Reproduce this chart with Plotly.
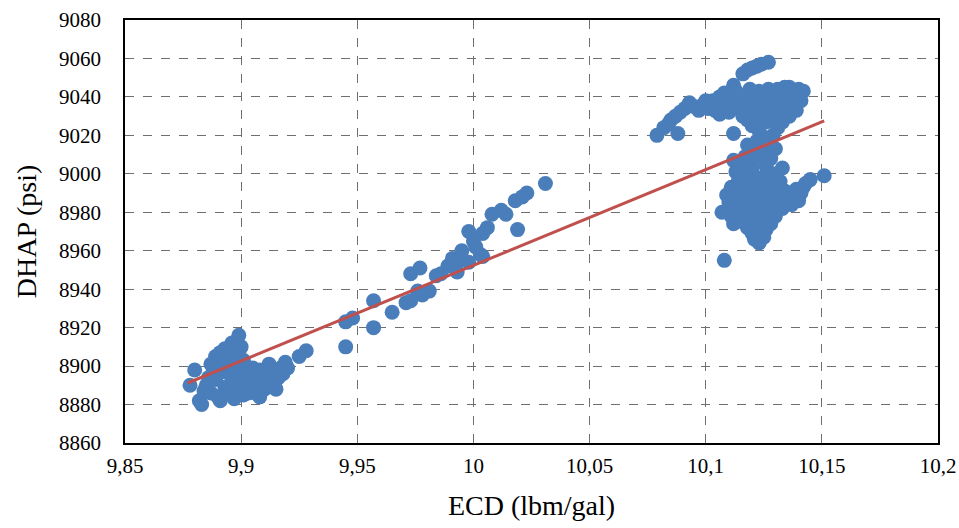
import plotly.graph_objects as go

# Measured ECD (lbm/gal) and downhole annular pressure (psi), by operating interval
ecd_low = [9.899, 9.896, 9.893, 9.891, 9.889, 9.887, 9.880, 9.878, 9.882, 9.883, 9.915, 9.919,
           9.925, 9.928, 9.912, 9.913, 9.885, 9.887, 9.889, 9.890, 9.892, 9.893, 9.895, 9.896,
           9.897, 9.898, 9.899, 9.900, 9.901, 9.902, 9.903, 9.904, 9.905, 9.906, 9.907, 9.908,
           9.909, 9.910, 9.911, 9.913, 9.914, 9.916, 9.918, 9.920, 9.895, 9.898, 9.901, 9.894,
           9.888, 9.886, 9.884, 9.891, 9.897, 9.903, 9.908, 9.900, 9.897, 9.905, 9.910, 9.915,
           9.917, 9.906, 9.892, 9.899]
dhap_low = [8916, 8912, 8909, 8907, 8905, 8901, 8898, 8890, 8882, 8880, 8888, 8902,
            8905, 8908, 8901, 8896, 8890, 8886, 8893, 8884, 8897, 8889, 8886, 8894,
            8900, 8891, 8887, 8896, 8885, 8892, 8899, 8889, 8895, 8886, 8891, 8898,
            8893, 8888, 8895, 8891, 8898, 8894, 8896, 8899, 8903, 8906, 8903, 8898,
            8897, 8894, 8887, 8882, 8883, 8886, 8884, 8910, 8909, 8899, 8897, 8893,
            8899, 8888, 8901, 8904]

ecd_mid = [9.945, 9.945, 9.948, 9.957, 9.957, 9.965, 9.971, 9.973, 9.973, 9.977, 9.976, 9.978,
           9.981, 9.984, 9.989, 9.991, 9.993, 9.995, 9.998, 9.998, 10.000, 10.003, 10.004,
           10.004, 10.006, 10.008, 10.012, 10.014, 10.018, 10.019, 10.021, 10.023, 10.031,
           9.986, 9.994, 10.001]
dhap_mid = [8910, 8923, 8925, 8920, 8934, 8928, 8933, 8934, 8948, 8951, 8939, 8937,
            8939, 8947, 8952, 8956, 8949, 8960, 8970, 8954, 8965, 8958, 8957,
            8969, 8972, 8979, 8981, 8979, 8986, 8971, 8988, 8990, 8995,
            8948, 8955, 8962]

ecd_high = [10.079, 10.082, 10.084, 10.085, 10.087, 10.089, 10.091, 10.093, 10.095, 10.088,
            10.097, 10.099, 10.101, 10.103, 10.105, 10.107, 10.109, 10.111, 10.112, 10.113,
            10.110, 10.106, 10.104, 10.112,
            10.116, 10.118, 10.120, 10.122, 10.124, 10.127,
            10.115, 10.117, 10.118, 10.119, 10.120, 10.121, 10.122, 10.123, 10.124, 10.125,
            10.126, 10.127, 10.128, 10.129, 10.130, 10.131, 10.132, 10.133, 10.134, 10.135,
            10.136, 10.137, 10.138, 10.139, 10.140, 10.141, 10.142, 10.139, 10.136, 10.133,
            10.116, 10.114, 10.119, 10.123, 10.127, 10.131,
            10.120, 10.123, 10.125, 10.127, 10.129, 10.131, 10.126, 10.124, 10.128, 10.120,
            10.118, 10.122, 10.130, 10.117, 10.115,
            10.100, 10.108, 10.114, 10.118, 10.121, 10.126, 10.129, 10.132, 10.134, 10.137,
            10.102, 10.106]
dhap_high = [9020, 9024, 9026, 9028, 9030, 9032, 9034, 9037, 9035, 9021,
             9033, 9036, 9034, 9038, 9036, 9039, 9037, 9041, 9046, 9043,
             9032, 9031, 9033, 9021,
             9052, 9054, 9055, 9056, 9057, 9058,
             9036, 9040, 9033, 9038, 9030, 9042, 9035, 9028, 9039, 9033,
             9041, 9036, 9030, 9043, 9038, 9034, 9040, 9031, 9037, 9042,
             9045, 9039, 9035, 9041, 9044, 9038, 9043, 9033, 9030, 9027,
             9030, 9034, 9044, 9043, 9044, 9044,
             9025, 9022, 9019, 9016, 9020, 9024, 9012, 9009, 9008, 9012,
             9015, 9017, 9013, 9009, 9006,
             9038, 9042, 9040, 9028, 9032, 9027, 9035, 9036, 9045, 9043,
             9037, 9040]

ecd_spread = [10.112, 10.113, 10.114, 10.111, 10.109, 10.107, 10.112, 10.108, 10.115, 10.116,
              10.117, 10.118, 10.119, 10.120, 10.121, 10.122, 10.123, 10.124, 10.125, 10.126,
              10.127, 10.128, 10.129, 10.130, 10.131, 10.132, 10.133, 10.134, 10.135, 10.136,
              10.137, 10.138, 10.139, 10.140, 10.141, 10.142, 10.143, 10.145, 10.151, 10.133,
              10.118, 10.120, 10.121, 10.123, 10.125, 10.126, 10.128, 10.116, 10.114, 10.110,
              10.117, 10.116, 10.125, 10.130, 10.121, 10.127, 10.113,
              10.119, 10.122, 10.124, 10.128, 10.131, 10.115, 10.118, 10.121, 10.126, 10.129,
              10.123, 10.134, 10.137, 10.111, 10.120]
dhap_spread = [9007, 9001, 8996, 8993, 8989, 8980, 8974, 8955, 8988, 8983,
               8978, 8992, 8998, 9003, 8987, 8981, 8994, 8976, 8990, 8985,
               8999, 8979, 8993, 8988, 8983, 8996, 9003, 8991, 8986, 8990,
               8984, 8988, 8992, 8986, 8990, 8993, 8995, 8997, 8999, 8982,
               8972, 8969, 8966, 8964, 8967, 8971, 8974, 8975, 8980, 8985,
               9003, 8994, 8981, 8978, 8975, 8994, 8987,
               8985, 8990, 8998, 8986, 8992, 8999, 9009, 9008, 9004, 9000,
               8972, 8986, 8989, 8978, 8980]

# Linear trend line endpoints
trend_ecd = [9.877, 10.151]
trend_dhap = [8891.2, 9027.5]

x_ticks = [9.85, 9.9, 9.95, 10.0, 10.05, 10.1, 10.15, 10.2]
x_tick_text = ["9,85", "9,9", "9,95", "10", "10,05", "10,1", "10,15", "10,2"]
y_ticks = list(range(8860, 9081, 20))

ecd = ecd_low + ecd_mid + ecd_high + ecd_spread
dhap = dhap_low + dhap_mid + dhap_high + dhap_spread

font_family = "Liberation Serif"

fig = go.Figure()
fig.add_trace(go.Scatter(
    x=ecd, y=dhap, mode="markers",
    marker=dict(size=15, color="#4A7EBB", line=dict(width=0)),
    showlegend=False,
))
fig.add_trace(go.Scatter(
    x=trend_ecd, y=trend_dhap, mode="lines",
    line=dict(color="#C0504D", width=3),
    showlegend=False,
))

axis_common = dict(
    showline=True, linecolor="black", linewidth=1.5, mirror=True,
    showgrid=True, gridcolor="#6f6f6f", griddash="dash", gridwidth=1,
    zeroline=False, ticks="", automargin=False,
    tickfont=dict(family=font_family, size=21, color="black"),
)

fig.update_layout(
    width=959, height=528,
    margin=dict(l=125, r=21, t=20, b=85),
    plot_bgcolor="white", paper_bgcolor="white",
    font=dict(family=font_family, color="black"),
    xaxis=dict(range=[9.85, 10.2], tickvals=x_ticks, ticktext=x_tick_text,
               ticklabelstandoff=3,
               title=dict(text="ECD (lbm/gal)", font=dict(family=font_family, size=28), standoff=18),
               **axis_common),
    yaxis=dict(range=[8860, 9080], tickvals=y_ticks,
               ticklabelstandoff=18,
               title=dict(text="DHAP (psi)", font=dict(family=font_family, size=28), standoff=14),
               **axis_common),
)

fig.write_html("out.html")
